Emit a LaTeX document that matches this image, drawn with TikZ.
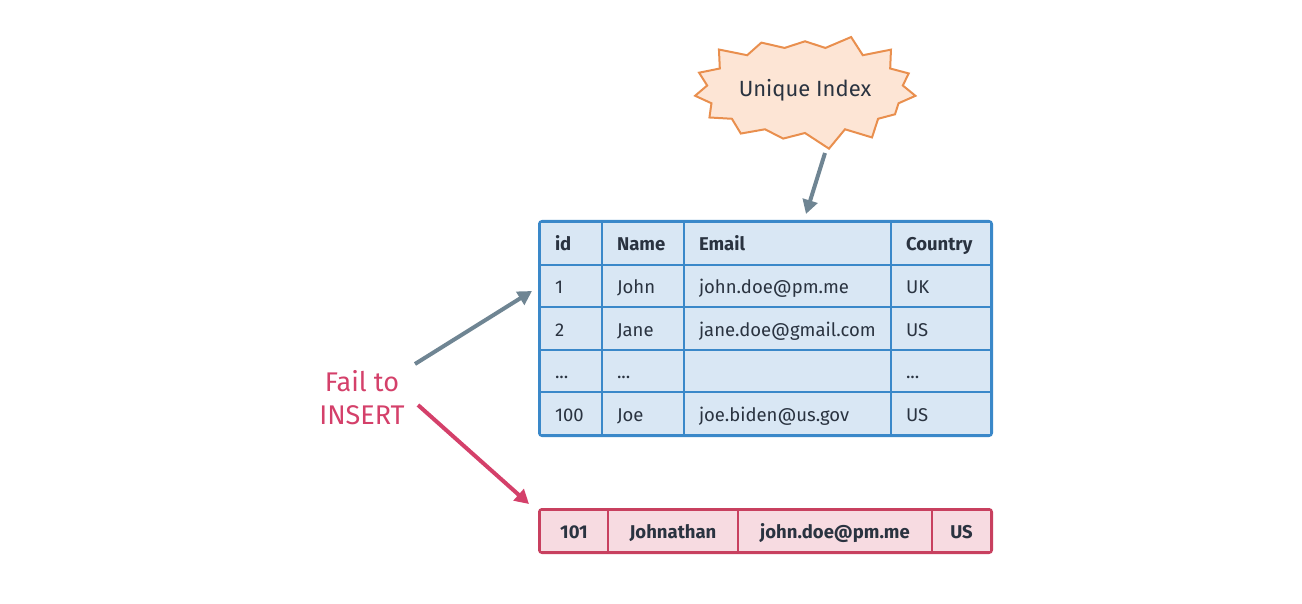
\documentclass[tikz,border=0pt]{standalone}
\usepackage{fontspec}
\setmainfont{Fira Sans}
\usetikzlibrary{shapes.symbols,arrows.meta}
\definecolor{tblue}{HTML}{3A88C9}
\definecolor{tbluefill}{HTML}{D9E7F4}
\definecolor{tred}{HTML}{C8405F}
\definecolor{tredfill}{HTML}{F7DBE1}
\definecolor{burstline}{HTML}{E98F4E}
\definecolor{burstfill}{HTML}{FDE5D5}
\definecolor{arrgray}{HTML}{6F8593}
\definecolor{ttext}{HTML}{2A3340}
\definecolor{failred}{HTML}{D4406A}
\newcommand\celldots{...}

\begin{document}
\begin{tikzpicture}[x=1pt,y=-1pt,
  cell/.style={draw=tblue,fill=tbluefill,line width=2pt,minimum height=42.6pt,inner xsep=15pt,
    text height=16pt,text depth=1pt,anchor=west,align=left,text=ttext,font=\fontsize{18.5}{20}\selectfont},
  newcell/.style={draw=tred,fill=tredfill,line width=2pt,minimum height=42pt,inner xsep=0pt,
    text height=16pt,text depth=1pt,anchor=west,text=ttext,font=\fontsize{18.5}{20}\selectfont\bfseries},
  gray arrow/.style={draw=arrgray,line width=4pt,-{Triangle[length=14pt,width=15pt]}},
  red arrow/.style={draw=failred,line width=4pt,-{Triangle[length=14pt,width=15pt]}}]
\useasboundingbox (0,0) rectangle (1302,604);

% index burst
\node[starburst,draw=burstline,fill=burstfill,line width=2pt,minimum width=222pt,minimum height=122pt,
  starburst points=15,starburst point height=18pt,random starburst=3,text=ttext,
  font=\fontsize{22}{24}\selectfont] (burst) at (805,90) {Unique Index};

% table
\foreach \r/\a/\b/\c/\d in {0/\textbf{id}/\textbf{Name}/\textbf{Email}/\textbf{Country},
    1/1/John/john.doe@pm.me/UK, 2/2/Jane/jane.doe@gmail.com/US, 3/\celldots/\celldots/{}/\celldots,
    4/100/Joe/joe.biden@us.gov/US}{
  \node[cell,text width=32pt] (r\r-1) at (539,222+42.6*\r+21.3) {\a};
  \node[cell,text width=52pt] (r\r-2) at (601,222+42.6*\r+21.3) {\b};
  \node[cell,text width=177pt] (r\r-3) at (683,222+42.6*\r+21.3) {\c};
  \node[cell,text width=70pt] (r\r-4) at (890,222+42.6*\r+21.3) {\d};
}
\draw[tblue,line width=2pt,rounded corners=3pt] (r0-1.north west) rectangle (r4-4.south east);

% row that fails
\node[newcell,minimum width=68pt] (n1) at (539,531) {101};
\node[newcell,minimum width=130pt] (n2) at (607,531) {Johnathan};
\node[newcell,minimum width=194pt] (n3) at (737,531) {john.doe@pm.me};
\node[newcell,minimum width=59pt] (n4) at (931,531) {US};
\draw[tred,line width=2pt,rounded corners=3pt] (n1.north west) rectangle (n4.south east);

\node[text=failred,align=center,font=\fontsize{27}{33}\selectfont] (fail) at (362,398) {Fail to\\INSERT};

% arrows
\coordinate (idxfrom) at (825,153);
\coordinate (idxto) at (806,214);
\draw[gray arrow] (idxfrom) -- (idxto);
\coordinate (okfrom) at (415,364);
\coordinate (okto) at (532,291);
\draw[gray arrow] (okfrom) -- (okto);
\coordinate (badfrom) at (418,405);
\coordinate (badto) at (529,504);
\draw[red arrow] (badfrom) -- (badto);
\end{tikzpicture}
\end{document}
